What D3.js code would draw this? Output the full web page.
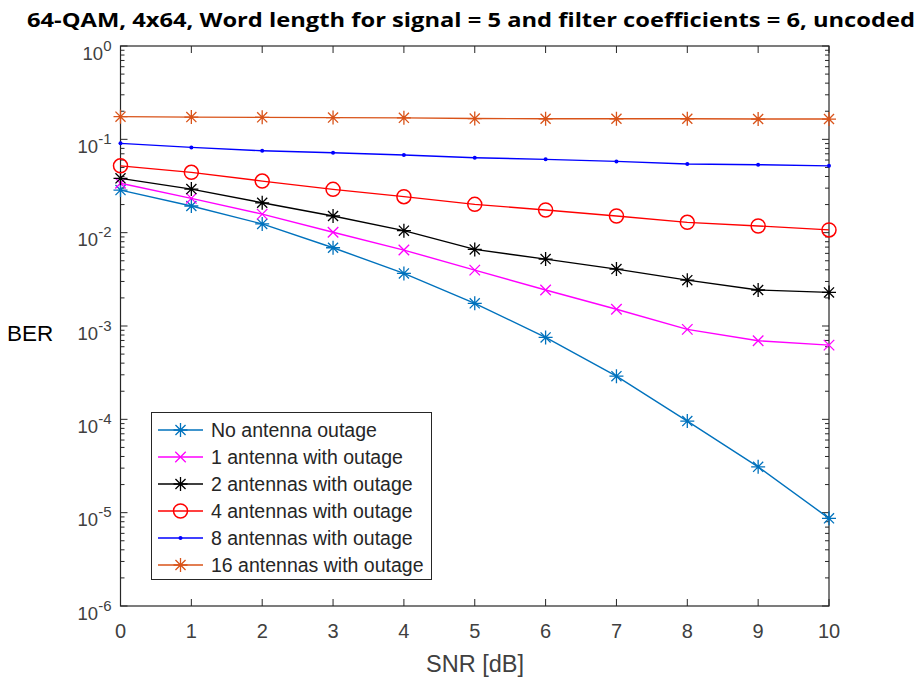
<!DOCTYPE html>
<html><head><meta charset="utf-8">
<script src="https://cdn.jsdelivr.net/npm/d3@7"></script>
<style>body{margin:0;background:#fff}svg{display:block}</style>
</head><body>
<svg id="c" width="924" height="678"></svg>
<script>
const snr = [0,1,2,3,4,5,6,7,8,9,10];
const ber0  = [0.0286,0.0193,0.0124,0.00689,0.00366,0.00175,0.000755,0.00029,0.0000957,0.000031,0.0000087];
const ber1  = [0.0338,0.0233,0.0158,0.0101,0.00651,0.00397,0.00243,0.00151,0.00092,0.000695,0.000624];
const ber2  = [0.0382,0.0293,0.0209,0.0151,0.0105,0.00662,0.00521,0.00407,0.0031,0.00243,0.00229];
const ber4  = [0.052,0.0443,0.0357,0.0291,0.0243,0.0201,0.0175,0.0151,0.0129,0.0118,0.0107];
const ber8  = [0.0906,0.082,0.0755,0.0719,0.068,0.0635,0.061,0.058,0.0544,0.0535,0.052];
const ber16 = [0.175,0.173,0.172,0.171,0.170,0.167,0.166,0.166,0.166,0.165,0.165];
const seriesNames = ["No antenna outage","1 antenna with outage","2 antennas with outage","4 antennas with outage","8 antennas with outage","16 antennas with outage"];
const seriesColors = ["#0072BD","#FF00FF","#000000","#FF0000","#0000FF","#D95319"];
const seriesMarkers = ["star","x","star","circle","dot","star"];
const xTicks = [0,1,2,3,4,5,6,7,8,9,10];
const yExps = [0,-1,-2,-3,-4,-5,-6];
const title = "64-QAM, 4x64, Word length for signal = 5 and filter coefficients = 6, uncoded";
const xLabel = "SNR [dB]";
const yLabel = "BER";

const allSeries = [ber0,ber1,ber2,ber4,ber8,ber16];
const L=120.5, R=829, T=46, B=606;
const svg = d3.select("#c");
const x = d3.scaleLinear().domain([0,10]).range([L,R]);
const y = d3.scaleLog().domain([1e-6,1]).range([B,T]);
const axisCol = "#262626";
const lblCol = "#404040";
const FF = "'Liberation Sans', Arial, Helvetica, sans-serif";

// title
svg.append("text").attr("x",471).attr("y",27).attr("text-anchor","middle")
  .attr("font-family","'Open Sans', sans-serif").attr("font-weight","bold").attr("font-size",19)
  .attr("textLength",888).attr("lengthAdjust","spacingAndGlyphs").attr("fill","#000").text(title);

// box
svg.append("rect").attr("x",L).attr("y",T).attr("width",R-L).attr("height",B-T)
  .attr("fill","none").attr("stroke",axisCol).attr("stroke-width",1.2);

const g = svg.append("g");
// x ticks
xTicks.forEach(v=>{
  const px = x(v);
  g.append("line").attr("x1",px).attr("x2",px).attr("y1",B).attr("y2",B-7).attr("stroke",axisCol);
  g.append("line").attr("x1",px).attr("x2",px).attr("y1",T).attr("y2",T+7).attr("stroke",axisCol);
  g.append("text").attr("x",px).attr("y",B+32).attr("text-anchor","middle")
   .attr("font-family",FF).attr("font-size",20).attr("fill",lblCol).text(v);
});
// y ticks
yExps.forEach(e=>{
  const py = y(Math.pow(10,e));
  g.append("line").attr("x1",L).attr("x2",L+7).attr("y1",py).attr("y2",py).attr("stroke",axisCol);
  g.append("line").attr("x1",R).attr("x2",R-7).attr("y1",py).attr("y2",py).attr("stroke",axisCol);
  const t = g.append("text").attr("x",L-9).attr("y",py+13.5).attr("text-anchor","end")
   .attr("font-family",FF).attr("font-size",18.5).attr("fill",lblCol);
  t.append("tspan").text("10");
  t.append("tspan").attr("dy",-9).attr("font-size",15).text(e);
  if (e>-6) for(let k=2;k<=9;k++){
    const my = y(k*Math.pow(10,e-1));
    g.append("line").attr("x1",L).attr("x2",L+4).attr("y1",my).attr("y2",my).attr("stroke",axisCol);
    g.append("line").attr("x1",R).attr("x2",R-4).attr("y1",my).attr("y2",my).attr("stroke",axisCol);
  }
});
// axis labels
svg.append("text").attr("x",475).attr("y",672).attr("text-anchor","middle")
  .attr("font-family",FF).attr("font-size",23.5).attr("fill",lblCol).text(xLabel);
svg.append("text").attr("x",7).attr("y",341)
  .attr("font-family",FF).attr("font-size",22.5).attr("fill","#000").text(yLabel);

function marker(sel, type, color, cx, cy){
  const s = 7;
  if(type==="star"){
    const p = `M${cx-s},${cy}L${cx+s},${cy}M${cx},${cy-s}L${cx},${cy+s}M${cx-s*0.72},${cy-s*0.72}L${cx+s*0.72},${cy+s*0.72}M${cx-s*0.72},${cy+s*0.72}L${cx+s*0.72},${cy-s*0.72}`;
    sel.append("path").attr("d",p).attr("stroke",color).attr("stroke-width",1.3).attr("fill","none");
  } else if(type==="x"){
    const a=s*0.75;
    sel.append("path").attr("d",`M${cx-a},${cy-a}L${cx+a},${cy+a}M${cx-a},${cy+a}L${cx+a},${cy-a}`).attr("stroke",color).attr("stroke-width",1.3).attr("fill","none");
  } else if(type==="circle"){
    sel.append("circle").attr("cx",cx).attr("cy",cy).attr("r",7).attr("stroke",color).attr("stroke-width",1.5).attr("fill","none");
  } else if(type==="dot"){
    sel.append("circle").attr("cx",cx).attr("cy",cy).attr("r",2).attr("fill",color);
  }
}

const line = d3.line().x((d,i)=>x(snr[i])).y(d=>y(d));
allSeries.forEach((s,k)=>{
  const sg = svg.append("g");
  sg.append("path").datum(s).attr("d",line).attr("fill","none").attr("stroke",seriesColors[k]).attr("stroke-width",1.4);
  s.forEach((v,i)=>marker(sg,seriesMarkers[k],seriesColors[k],x(snr[i]),y(v)));
});

// legend
const lg = svg.append("g");
lg.append("rect").attr("x",151.5).attr("y",412.5).attr("width",280).attr("height",167)
  .attr("fill","#fff").attr("stroke",axisCol).attr("stroke-width",1);
seriesNames.forEach((n,k)=>{
  const ly = 430 + k*27;
  lg.append("line").attr("x1",158).attr("x2",203).attr("y1",ly).attr("y2",ly).attr("stroke",seriesColors[k]).attr("stroke-width",1.4);
  marker(lg,seriesMarkers[k],seriesColors[k],180.5,ly);
  lg.append("text").attr("x",211).attr("y",ly+7).attr("font-family",FF)
    .attr("font-size",19.5).attr("fill","#262626").text(n);
});
</script>
</body></html>
